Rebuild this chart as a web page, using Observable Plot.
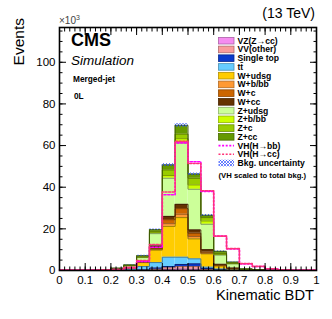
<!DOCTYPE html>
<html><head><meta charset="utf-8">
<script src="https://cdn.jsdelivr.net/npm/d3@7"></script>
<script src="https://cdn.jsdelivr.net/npm/@observablehq/plot@0.6"></script>
<style>body{margin:0;background:#fff} svg{display:block}</style>
</head><body><div id="chart"></div>
<script>
// ---- data ----
const binLow = [0,0.05,0.10,0.15,0.20,0.25,0.30,0.35,0.40,0.45,0.50,0.55,0.60,0.65,0.70,0.75,0.80,0.85,0.90,0.95];
const binWidth = 0.05;
const processes = ["VZ(Z→cc)","VV(other)","Single top","tt̄","W+udsg","W+b/bb","W+c","W+cc","Z+udsg","Z+b/bb","Z+c","Z+cc"];
const colors = ["#f58cf0","#fa9c9c","#0a3acc","#66ccff","#ffcc00","#ff9933","#cc6600","#663300","#ccff99","#ccff00","#99cc00","#669900"];
const VZ    = [0,0,0,0,0.01,0.02,0.05,0.2,0.5,0.7,0.6,0.15,0.1,0.02,0.01,0,0,0,0,0];
const VV    = [0,0,0,0.01,0.01,0.03,0.1,0.4,0.8,1.2,1.3,0.35,0.1,0.03,0.01,0.01,0,0,0,0];
const ST    = [0,0,0,0.01,0.02,0.05,0.15,0.6,0.6,1.0,1.3,0.5,0.2,0.05,0.01,0.01,0,0,0,0];
const TT    = [0.02,0.02,0.02,0.05,0.2,0.5,1.6,2.6,4.5,3.5,2.4,0.6,0.3,0.1,0.05,0.02,0.01,0,0,0];
const Wudsg = [0.03,0.03,0.03,0.07,0.25,0.6,1.9,6.0,14.8,19.0,9.6,6.4,1.5,0.6,0.15,0.05,0.02,0.01,0,0];
const Wbb   = [0,0,0,0.01,0.02,0.05,0.15,0.3,1.3,1.6,1.1,0.3,0.1,0.05,0.01,0,0,0,0,0];
const Wc    = [0,0,0,0.01,0.04,0.1,0.2,0.5,1.9,2.7,1.6,0.5,0.2,0.1,0.02,0.01,0,0,0,0];
const Wcc   = [0,0,0,0.01,0.05,0.15,0.25,1.2,1.6,2.1,1.6,1.2,0.5,0.25,0.05,0.02,0,0,0,0];
const Zudsg = [0.05,0.05,0.05,0.1,0.35,0.8,1.8,5.9,18.3,29.4,19.5,12.2,4.4,2.0,0.3,0.15,0.05,0.03,0.02,0.01];
const Zbb   = [0,0,0,0.01,0.02,0.05,0.15,0.5,1.3,2.1,2.1,1.6,0.3,0.1,0.02,0.01,0,0,0,0];
const Zc    = [0,0,0,0.01,0.03,0.1,0.25,0.6,2.7,2.2,3.2,1.6,0.5,0.2,0.05,0.02,0,0,0,0];
const Zcc   = [0,0,0,0.02,0.1,0.25,0.5,0.8,2.4,4.2,2.0,1.1,1.0,0.5,0.1,0.03,0.01,0,0,0];
const bkgUnc = [0,0,0,0,0.05,0.1,0.2,0.3,0.6,0.8,0.5,0.4,0.2,0.1,0.05,0,0,0,0,0];
const vhBB  = [0.2,0.2,0.2,0.2,0.4,1.3,4.3,11.2,36.4,61.3,52.2,38.0,16.5,10.4,3.2,1.9,0.8,0.3,0.2,0.2];
const vhCC  = [0.2,0.2,0.2,0.3,0.5,1.5,4.8,12.5,37.7,62.0,51.4,38.3,16.5,10.5,3.3,2.0,0.8,0.3,0.2,0.2];
const series = [VZ,VV,ST,TT,Wudsg,Wbb,Wc,Wcc,Zudsg,Zbb,Zc,Zcc];
const xMajor = [0,0.1,0.2,0.3,0.4,0.5,0.6,0.7,0.8,0.9,1];
const xMinor = d3.range(0, 1.0001, 0.02);
const yMajor = [0,20,40,60,80,100];
const yMinor = d3.range(0, 116, 5);
const yMax = 116.7;

// ---- build tables ----
const rects = [], outlines = [], totals = [];
binLow.forEach((lo, i) => {
  let base = 0;
  series.forEach((s, k) => {
    const top = base + s[i];
    rects.push({x1: lo, x2: lo + binWidth, y1: base, y2: top, fill: colors[k], proc: processes[k]});
    outlines.push({x: lo, y: top, proc: processes[k]}, {x: lo + binWidth, y: top, proc: processes[k]});
    base = top;
  });
  totals.push(base);
});
const uncRows = binLow.map((lo, i) => ({x1: lo, x2: lo + binWidth, y1: totals[i] - bkgUnc[i], y2: totals[i] + bkgUnc[i]}));
const stepPts = arr => binLow.flatMap((lo, i) => [{x: lo, y: arr[i]}, {x: lo + binWidth, y: arr[i]}]);
const strokeOf = {};
processes.forEach((p, k) => strokeOf[p] = d3.color(colors[k]).darker(1.6).formatHex());

const fmtX = d => String(+d.toFixed(1));
const font = "'Liberation Sans', Arial, Helvetica, sans-serif";

const svg = Plot.plot({
  width: 332, height: 319,
  marginLeft: 59, marginRight: 16, marginTop: 27, marginBottom: 49,
  x: {domain: [0, 1]},
  y: {domain: [0, yMax]},
  style: {fontFamily: font, fontSize: "11px", color: "#000", background: "#fff", overflow: "visible"},
  marks: [
    Plot.rect(rects, {x1: "x1", x2: "x2", y1: "y1", y2: "y2", fill: "fill"}),
    Plot.line(outlines, {x: "x", y: "y", z: "proc", stroke: d => strokeOf[d.proc], strokeWidth: 0.9}),
    Plot.rect(uncRows, {x1: "x1", x2: "x2", y1: "y1", y2: "y2", fill: "url(#hatch)"}),
    Plot.line(stepPts(vhBB), {x: "x", y: "y", stroke: "#ff00ff", strokeWidth: 1.6, strokeDasharray: "2,1.6"}),
    Plot.line(stepPts(vhCC), {x: "x", y: "y", stroke: "#ff3377", strokeWidth: 1.6, strokeDasharray: "2,1.6"}),
    Plot.axisX({ticks: xMajor, tickFormat: fmtX, tickSize: 0, tickPadding: 5, label: null, fontSize: 11.5}),
    Plot.axisY({ticks: yMajor, tickSize: 0, tickPadding: 4, label: null, fontSize: 11.5}),
    Plot.axisX({ticks: xMajor, tickSize: -7, tickFormat: () => "", label: null, anchor: "bottom"}),
    Plot.axisX({ticks: xMajor, tickSize: -7, tickFormat: () => "", label: null, anchor: "top"}),
    Plot.axisX({ticks: xMinor, tickSize: -3.5, tickFormat: () => "", label: null, anchor: "bottom"}),
    Plot.axisX({ticks: xMinor, tickSize: -3.5, tickFormat: () => "", label: null, anchor: "top"}),
    Plot.axisY({ticks: yMajor, tickSize: -7, tickFormat: () => "", label: null, anchor: "left"}),
    Plot.axisY({ticks: yMajor, tickSize: -7, tickFormat: () => "", label: null, anchor: "right"}),
    Plot.axisY({ticks: yMinor, tickSize: -3.5, tickFormat: () => "", label: null, anchor: "left"}),
    Plot.axisY({ticks: yMinor, tickSize: -3.5, tickFormat: () => "", label: null, anchor: "right"}),
    Plot.frame({stroke: "#000", strokeWidth: 1.6})
  ]
});
document.getElementById("chart").appendChild(svg);

// ---- decorations ----
const s = d3.select(svg);
const defs = s.insert("defs", ":first-child");
const pat = defs.append("pattern").attr("id", "hatch").attr("patternUnits", "userSpaceOnUse").attr("width", 3).attr("height", 3);
pat.append("path").attr("d", "M0,3 L3,0 M0,0 L3,3").attr("stroke", "#3050ff").attr("stroke-width", 0.7).attr("fill", "none");

const g = s.append("g").attr("font-family", font).attr("fill", "#000").attr("text-anchor", "start");
g.append("text").attr("x", 315).attr("y", 18).attr("text-anchor", "end").attr("font-size", 14).text("(13 TeV)");
const t10 = g.append("text").attr("x", 59).attr("y", 24).attr("font-size", 10).attr("fill", "#444");
t10.append("tspan").text("×10");
t10.append("tspan").attr("dy", -4).attr("font-size", 7).text("3");
g.append("text").attr("transform", "translate(24,18) rotate(-90)").attr("text-anchor", "end").attr("font-size", 15.5).text("Events");
g.append("text").attr("x", 314).attr("y", 300).attr("text-anchor", "end").attr("font-size", 14.7).text("Kinematic BDT");
g.append("text").attr("x", 71).attr("y", 46).attr("font-size", 18).attr("font-weight", "bold").text("CMS");
g.append("text").attr("x", 71).attr("y", 65).attr("font-size", 13.5).attr("font-style", "italic").text("Simulation");
g.append("text").attr("x", 73).attr("y", 82).attr("font-size", 8.3).attr("font-weight", "bold").text("Merged-jet");
g.append("text").attr("x", 74).attr("y", 99).attr("font-size", 8.3).attr("font-weight", "bold").text("0L");

// legend
const legX = 218.5, rowH = 8.74, row0 = 40.7, legFont = 8.6;
const lg = g.append("g");
processes.forEach((p, k) => {
  const cy = row0 + k * rowH;
  lg.append("rect").attr("x", legX).attr("y", cy - 3.3).attr("width", 15.5).attr("height", 6.6)
    .attr("fill", colors[k]).attr("stroke", d3.color(colors[k]).darker(1).formatHex()).attr("stroke-width", 0.8);
  lg.append("text").attr("x", 237.5).attr("y", cy + 3).attr("font-size", legFont).attr("font-weight", "bold").text(p);
});
const sigLeg = [["VH(H→bb)", "#ff00ff"], ["VH(H→cc)", "#ff3377"]];
sigLeg.forEach(([lab, col], j) => {
  const cy = row0 + (12 + j) * rowH;
  lg.append("line").attr("x1", legX).attr("x2", legX + 15.5).attr("y1", cy).attr("y2", cy)
    .attr("stroke", col).attr("stroke-width", 1.6).attr("stroke-dasharray", "2,1.6");
  lg.append("text").attr("x", 237.5).attr("y", cy + 3).attr("font-size", legFont).attr("font-weight", "bold").text(lab);
});
{
  const cy = row0 + 14 * rowH;
  lg.append("rect").attr("x", legX).attr("y", cy - 3.3).attr("width", 15.5).attr("height", 6.6).attr("fill", "url(#hatch)");
  lg.append("text").attr("x", 237.5).attr("y", cy + 3).attr("font-size", legFont).attr("font-weight", "bold").text("Bkg. uncertainty");
}
g.append("text").attr("x", 218.5).attr("y", 177.5).attr("font-size", 7.7).attr("font-weight", "bold").text("(VH scaled to total bkg.)");
</script></body></html>
